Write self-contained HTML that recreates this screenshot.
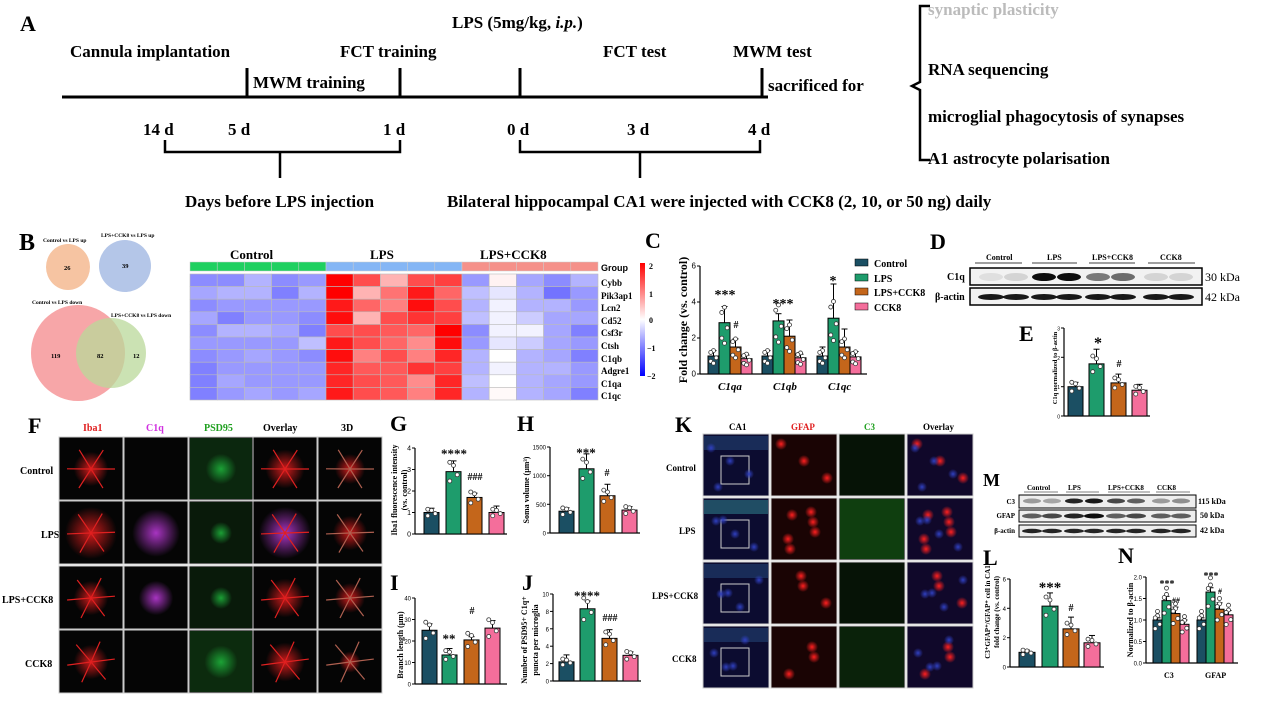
<!DOCTYPE html>
<html><head><meta charset="utf-8"><style>
html,body{margin:0;padding:0;background:#fff;width:1265px;height:720px;overflow:hidden}
svg{display:block}
text{font-family:"Liberation Serif",serif;font-weight:bold}
.s{font-family:"Liberation Sans",sans-serif;font-weight:normal}
</style></head><body>
<svg id="c" width="1265" height="720" xmlns="http://www.w3.org/2000/svg">
<defs>
<linearGradient id="cb" x1="0" y1="0" x2="0" y2="1"><stop offset="0" stop-color="#ff0000"/><stop offset="0.5" stop-color="#ffffff"/><stop offset="1" stop-color="#0000ff"/></linearGradient>
<radialGradient id="rg"><stop offset="0" stop-color="#ff2020"/><stop offset="1" stop-color="#ff2020" stop-opacity="0"/></radialGradient>
<radialGradient id="mg"><stop offset="0" stop-color="#d040f0"/><stop offset="1" stop-color="#d040f0" stop-opacity="0"/></radialGradient>
<radialGradient id="gg"><stop offset="0" stop-color="#20c040"/><stop offset="1" stop-color="#20c040" stop-opacity="0"/></radialGradient>
<radialGradient id="bg"><stop offset="0" stop-color="#3040c0"/><stop offset="1" stop-color="#3040c0" stop-opacity="0"/></radialGradient>
</defs>
<!-- Panel A -->
<text x="20" y="31" font-size="22">A</text>
<text x="452" y="28" font-size="17">LPS (5mg/kg, <tspan font-style="italic">i.p.</tspan>)</text>
<text x="70" y="57" font-size="17">Cannula implantation</text>
<text x="340" y="57" font-size="17">FCT training</text>
<text x="603" y="57" font-size="17">FCT test</text>
<text x="733" y="57" font-size="17">MWM test</text>
<text x="253" y="88" font-size="17">MWM training</text>
<text x="768" y="91" font-size="17">sacrificed for</text>
<line x1="62" y1="97" x2="768" y2="97" stroke="#000" stroke-width="3"/>
<g stroke="#000" stroke-width="3"><line x1="247" y1="68" x2="247" y2="97"/><line x1="400" y1="68" x2="400" y2="97"/><line x1="520" y1="68" x2="520" y2="97"/><line x1="762" y1="68" x2="762" y2="97"/></g>
<g font-size="17"><text x="143" y="135">14 d</text><text x="228" y="135">5 d</text><text x="383" y="135">1 d</text><text x="507" y="135">0 d</text><text x="627" y="135">3 d</text><text x="748" y="135">4 d</text></g>
<g fill="none" stroke="#000" stroke-width="2.5"><path d="M165 140 V152 H400 V140 M280 152 V178"/><path d="M520 140 V152 H760 V140 M640 152 V178"/>
<path d="M930 6 H920 V82 L912 86 L920 90 V160 H930"/></g>
<text x="185" y="207" font-size="17">Days before LPS injection</text>
<text x="447" y="207" font-size="17">Bilateral hippocampal CA1 were injected  with CCK8 (2, 10, or 50 ng) daily</text>
<text x="928" y="15" font-size="17" fill="#bbb">synaptic plasticity</text>
<text x="928" y="75" font-size="17">RNA sequencing</text>
<text x="928" y="122" font-size="17">microglial phagocytosis of synapses</text>
<text x="928" y="164" font-size="17">A1 astrocyte polarisation</text>
<!-- Panel B -->
<text x="19" y="250" font-size="24">B</text>
<ellipse cx="68" cy="267" rx="22" ry="23" fill="#f6c4a2"/>
<ellipse cx="125" cy="266" rx="26" ry="26" fill="#b4c6e8"/>
<ellipse cx="78" cy="353" rx="47" ry="48" fill="#f7a6a8"/>
<ellipse cx="111" cy="353" rx="35" ry="35" fill="#b9d89a" opacity="0.75"/>
<g font-size="5.5"><text x="43" y="242">Control vs LPS  up</text><text x="101" y="237">LPS+CCK8 vs LPS  up</text><text x="32" y="304">Control vs LPS down</text><text x="111" y="317">LPS+CCK8 vs LPS down</text></g>
<g font-size="6.5"><text x="64" y="270">26</text><text x="122" y="268">39</text><text x="51" y="358">119</text><text x="97" y="358">82</text><text x="133" y="358">12</text></g>
<g id="hm"></g>
<g font-size="13"><text x="230" y="259">Control</text><text x="370" y="259">LPS</text><text x="480" y="259">LPS+CCK8</text></g>
<text x="601" y="271" font-size="9" class="s" style="font-weight:bold">Group</text>
<g font-size="9" class="s"><text x="601" y="286">Cybb</text><text x="601" y="299">Pik3ap1</text><text x="601" y="311">Lcn2</text><text x="601" y="324">Cd52</text><text x="601" y="336">Csf3r</text><text x="601" y="349">Ctsh</text><text x="601" y="362">C1qb</text><text x="601" y="374">Adgre1</text><text x="601" y="387">C1qa</text><text x="601" y="399">C1qc</text></g>
<rect x="640" y="263" width="5" height="113" fill="url(#cb)"/>
<g font-size="8" class="s"><text x="649" y="269">2</text><text x="649" y="297">1</text><text x="649" y="323">0</text><text x="647" y="351">−1</text><text x="647" y="379">−2</text></g>
<!-- C -->
<text x="645" y="248" font-size="22">C</text>
<text transform="translate(687,320) rotate(-90)" font-size="12" text-anchor="middle">Fold change (vs. control)</text>
<g font-size="11" font-style="italic"><text x="718" y="390">C1qa</text><text x="773" y="390">C1qb</text><text x="828" y="390">C1qc</text></g>
<g font-size="10"><rect x="855" y="259" width="13" height="7" fill="#1b4f63" stroke="#000" stroke-width=".5"/><text x="874" y="267">Control</text>
<rect x="855" y="274" width="13" height="7" fill="#1e9c6c" stroke="#000" stroke-width=".5"/><text x="874" y="282">LPS</text>
<rect x="855" y="288" width="13" height="7" fill="#c4661b" stroke="#000" stroke-width=".5"/><text x="874" y="296">LPS+CCK8</text>
<rect x="855" y="303" width="13" height="7" fill="#f46e9b" stroke="#000" stroke-width=".5"/><text x="874" y="311">CCK8</text></g>
<!-- D -->
<text x="930" y="249" font-size="22">D</text>
<g font-size="8"><text x="986" y="260">Control</text><text x="1047" y="260">LPS</text><text x="1092" y="260">LPS+CCK8</text><text x="1160" y="260">CCK8</text></g>
<g stroke="#000" stroke-width=".8"><line x1="975" y1="263" x2="1022" y2="263"/><line x1="1032" y1="263" x2="1077" y2="263"/><line x1="1089" y1="263" x2="1135" y2="263"/><line x1="1148" y1="263" x2="1195" y2="263"/></g>
<rect x="970" y="268" width="232" height="17" fill="#f2f2f2" stroke="#000" stroke-width="1.5"/>
<rect x="970" y="288" width="232" height="17" fill="#f2f2f2" stroke="#000" stroke-width="1.5"/>
<g id="blotD"></g>
<text x="947" y="280" font-size="10">C1q</text><text x="935" y="300" font-size="10">β-actin</text>
<text x="1205" y="281" font-size="12" style="font-weight:normal">30 kDa</text><text x="1205" y="301" font-size="12" style="font-weight:normal">42 kDa</text>
<!-- E -->
<text x="1019" y="341" font-size="22">E</text>
<text transform="translate(1057,368) rotate(-90)" font-size="6.5" text-anchor="middle">C1q normalized to β-actin</text>
<!-- F -->
<text x="28" y="433" font-size="22">F</text>
<g font-size="10"><text x="83" y="431" fill="#e02020">Iba1</text><text x="146" y="431" fill="#d030e0">C1q</text><text x="204" y="431" fill="#20a020">PSD95</text><text x="263" y="431">Overlay</text><text x="341" y="431">3D</text></g>
<g font-size="10"><text x="20" y="474">Control</text><text x="41" y="538">LPS</text><text x="2" y="603">LPS+CCK8</text><text x="25" y="667">CCK8</text></g>
<g id="imgF"></g>
<!-- G H I J -->
<text x="390" y="431" font-size="22">G</text><text x="517" y="431" font-size="22">H</text>
<text x="390" y="590" font-size="22">I</text><text x="522" y="590" font-size="22">J</text>
<text transform="translate(397,490) rotate(-90)" font-size="8" text-anchor="middle">Iba1 fluorescence intensity</text>
<text transform="translate(407,490) rotate(-90)" font-size="8" text-anchor="middle">(vs. control)</text>
<text transform="translate(529,490) rotate(-90)" font-size="8" text-anchor="middle">Soma volume (μm³)</text>
<text transform="translate(403,645) rotate(-90)" font-size="8" text-anchor="middle">Branch length (μm)</text>
<text transform="translate(527,640) rotate(-90)" font-size="8" text-anchor="middle">Number of PSD95+ C1q+</text>
<text transform="translate(538,640) rotate(-90)" font-size="8" text-anchor="middle">puncta per microglia</text>
<!-- K -->
<text x="675" y="432" font-size="22">K</text>
<g font-size="9"><text x="729" y="430">CA1</text><text x="791" y="430" fill="#e02020">GFAP</text><text x="864" y="430" fill="#20a020">C3</text><text x="923" y="430">Overlay</text></g>
<g font-size="9"><text x="666" y="471">Control</text><text x="679" y="534">LPS</text><text x="652" y="599">LPS+CCK8</text><text x="672" y="662">CCK8</text></g>
<g id="imgK"></g>
<!-- M -->
<text x="983" y="486" font-size="18">M</text>
<g font-size="7"><text x="1027" y="490">Control</text><text x="1068" y="490">LPS</text><text x="1108" y="490">LPS+CCK8</text><text x="1157" y="490">CCK8</text></g>
<g stroke="#000" stroke-width=".6"><line x1="1024" y1="492" x2="1058" y2="492"/><line x1="1066" y1="492" x2="1099" y2="492"/><line x1="1108" y1="492" x2="1150" y2="492"/><line x1="1156" y1="492" x2="1190" y2="492"/></g>
<rect x="1019" y="495" width="177" height="13" fill="#eee" stroke="#000"/>
<rect x="1019" y="510" width="177" height="12" fill="#eee" stroke="#000"/>
<rect x="1019" y="525" width="177" height="12" fill="#eee" stroke="#000"/>
<g id="blotM"></g>
<g font-size="7" text-anchor="end"><text x="1015" y="504">C3</text><text x="1015" y="518">GFAP</text><text x="1015" y="533">β-actin</text></g>
<g font-size="8" style="font-weight:normal"><text x="1198" y="504">115 kDa</text><text x="1200" y="518">50 kDa</text><text x="1200" y="533">42 kDa</text></g>
<text x="983" y="565" font-size="22">L</text><text x="1118" y="563" font-size="22">N</text>
<text transform="translate(990,612) rotate(-90)" font-size="7" text-anchor="middle">C3⁺GFAP⁺/GFAP⁺ cell in CA1</text>
<text transform="translate(999,612) rotate(-90)" font-size="7" text-anchor="middle">fold change (vs. control)</text>
<text transform="translate(1133,620) rotate(-90)" font-size="8" text-anchor="middle">Normalized to β-actin</text>
<text x="1164" y="678" font-size="8">C3</text><text x="1205" y="678" font-size="8">GFAP</text>
<g id="charts"></g>
</svg>
<script>
var NS="http://www.w3.org/2000/svg";
function el(p,t,a){var e=document.createElementNS(NS,t);for(var k in a)e.setAttribute(k,a[k]);p.appendChild(e);return e;}
var hm=document.getElementById('hm');
var M=[[-0.9,-0.9,-0.6,-0.9,-0.8,2,1.4,0.6,1.4,1.5,-0.8,0.1,-0.7,-0.9,-0.6],
[-0.7,-0.6,-0.6,-1,-0.6,2,0.6,1.1,1.8,1.2,-0.5,-0.2,-0.6,-1.1,-0.8],
[-0.9,-0.8,-0.8,-0.8,-0.8,1.8,1.2,1.0,1.9,1.4,-0.6,-0.1,-0.6,-0.6,-0.8],
[-0.7,-1,-0.8,-0.8,-0.9,1.9,0.6,1.4,1.6,1.5,-0.5,-0.1,-0.4,-0.7,-0.7],
[-0.9,-0.6,-0.6,-0.7,-1,1.4,1.4,1.3,1.2,2,-0.9,-0.1,-0.1,-0.7,-1],
[-0.8,-0.8,-0.8,-0.8,-0.5,1.8,1.4,1.2,0.9,1.9,-0.8,-0.2,-0.4,-0.7,-0.8],
[-0.9,-0.8,-0.7,-0.8,-0.9,1.9,1.0,1.4,1.0,1.7,-0.6,0,-0.6,-0.7,-1],
[-1,-0.8,-0.8,-0.8,-0.8,1.7,1.3,1.3,1.6,1.5,-0.6,-0.1,-0.6,-0.6,-0.8],
[-1,-0.7,-0.8,-0.8,-0.8,1.7,1.4,1.3,0.9,1.7,-0.5,0,-0.6,-0.7,-0.8],
[-1,-0.8,-0.7,-0.8,-0.7,1.8,1.4,1.3,1.0,1.7,-0.6,0.05,-0.6,-0.7,-1]];
var cw=408/15;
function col(v){var t=Math.min(1,Math.abs(v)/2);var w=Math.round(255*(1-t));return v>=0?'rgb(255,'+w+','+w+')':'rgb('+w+','+w+',255)';}
for(var j=0;j<15;j++){el(hm,'rect',{x:190+j*cw,y:262,width:cw,height:9,fill:j<5?'#1fd060':j<10?'#85b6f5':'#f5918a',stroke:'#ccc','stroke-width':0.5});}
for(var i=0;i<10;i++)for(var j=0;j<15;j++)el(hm,'rect',{x:190+j*cw,y:274+i*12.6,width:cw,height:12.6,fill:col(M[i][j]),stroke:'#bbb','stroke-width':0.6});
var C=['#1b4f63','#1e9c6c','#c4661b','#f46e9b'];
var ch=document.getElementById('charts');
function axis(x,y0,y1,ticks,labs,xend,fs){el(ch,'line',{x1:x,y1:y0,x2:x,y2:y1,stroke:'#000','stroke-width':1.2});el(ch,'line',{x1:x,y1:y0,x2:xend,y2:y0,stroke:'#000','stroke-width':1.2});
for(var i=0;i<ticks.length;i++){var y=ticks[i];el(ch,'line',{x1:x-3,y1:y,x2:x,y2:y,stroke:'#000'});var t=el(ch,'text',{x:x-4,y:y+2.5,'font-size':fs||7,'text-anchor':'end',class:'s'});t.textContent=labs[i];}}
function bar(x,w,y0,h,c,err,dots){el(ch,'line',{x1:x+w/2,y1:y0-h,x2:x+w/2,y2:y0-h-err,stroke:'#000','stroke-width':1});el(ch,'line',{x1:x+w/2-3,y1:y0-h-err,x2:x+w/2+3,y2:y0-h-err,stroke:'#000','stroke-width':1});
el(ch,'rect',{x:x,y:y0-h,width:w,height:h,fill:c,stroke:'#000','stroke-width':1});
for(var i=0;i<dots.length;i++)el(ch,'circle',{cx:x+w/2+(i%3-1)*w*0.25,cy:y0-h*dots[i],r:2,fill:'#fff',stroke:'#333','stroke-width':0.8});}
function txt(x,y,s,fs){var t=el(ch,'text',{x:x,y:y,'font-size':fs,'text-anchor':'middle'});t.textContent=s;}
var D4=[0.85,1.1,0.95,1.15];
// C
var y0=374,u=18;axis(700,y0,266,[374,338,302,266],['0','2','4','6'],867,8);
var cv=[[1,2.85,1.5,0.85],[1,2.95,2.1,0.9],[1,3.1,1.5,0.95]],ce=[[0.3,0.9,0.45,0.2],[0.3,0.4,0.9,0.2],[0.5,1.9,1.0,0.3]];
var gs=[708,762,817];
for(var g=0;g<3;g++)for(var b=0;b<4;b++)bar(gs[g]+b*11,11,y0,cv[g][b]*u,C[b],ce[g][b]*u,[0.7,1.3,0.9,1.2,0.6]);
txt(725,299,'***',14);txt(736,328,'#',10);txt(783,308,'***',14);txt(833,285,'*',14);
// E
axis(1064,416,328,[416,386.7,357.3,328],['0','1','2','3'],1150,5);
var ev=[1,1.78,1.13,0.88];var ee=[0.15,0.5,0.3,0.2];var ex=[1068,1089,1111,1132];
for(var b=0;b<4;b++)bar(ex[b],15,416,ev[b]*29.3,C[b],ee[b]*29.3,D4);
txt(1098,348,'*',16);txt(1119,367,'#',10);
// G
axis(415,534,448,[534,512.5,491,469.5,448],['0','1','2','3','4'],507,7);
var gv=[1,2.9,1.7,1.0],gx=[424,446,467,489];for(var b=0;b<4;b++)bar(gx[b],15,534,gv[b]*21.5,C[b],[0.2,0.5,0.2,0.3][b]*21.5,D4);
txt(454,458,'****',13);txt(475,480,'###',10);
// H
axis(550,533,447,[533,504.3,475.7,447],['0','500','1000','1500'],640,6);
var hv=[380,1120,650,400],hx=[559,579,600,622];for(var b=0;b<4;b++)bar(hx[b],15,533,hv[b]/1500*86,C[b],[60,260,200,60][b]/1500*86,D4);
txt(586,457,'***',13);txt(607,476,'#',10);
// I
axis(415,684,598,[684,662.5,641,619.5,598],['0','10','20','30','40'],507,6);
var iv=[25,13.5,20.5,26],ix=[422,442,464,485];for(var b=0;b<4;b++)bar(ix[b],15,684,iv[b]/40*86,C[b],[3,3,1.5,3.5][b]/40*86,D4);
txt(449,643,'**',13);txt(472,614,'#',10);
// J
axis(553,681,594,[681,663.6,646.2,628.8,611.4,594],['0','2','4','6','8','10'],641,6);
var jv=[2.2,8.3,4.9,2.95],jx=[559,580,602,623];for(var b=0;b<4;b++)bar(jx[b],15,681,jv[b]*8.7,C[b],[0.8,0.9,1,0.4][b]*8.7,D4);
txt(587,600,'****',13);txt(610,621,'###',10);
// L
axis(1010,667,579,[667,637.7,608.3,579],['0','2','4','6'],1104,6);
var lv=[1,4.15,2.6,1.65],lx=[1019,1042,1063,1084];for(var b=0;b<4;b++)bar(lx[b],16,667,lv[b]*14.67,C[b],[0.15,0.9,0.8,0.5][b]*14.67,D4);
txt(1050,592,'***',15);txt(1071,611,'#',10);
// N
axis(1146,663,577,[663,641.5,620,598.5,577],['0.0','0.5','1.0','1.5','2.0'],1238,6);
var nv=[[1,1.45,1.15,0.9],[1,1.65,1.25,1.12]];
for(var g=0;g<2;g++)for(var b=0;b<4;b++)bar(1153+g*44+b*9,9,663,nv[g][b]*43,C[b],[0.05,0.1,0.15,0.1][b]*43,[0.8,1.1,0.9,1.05,1.2]);
txt(1167,587,'***',10);txt(1176,603,'##',8);txt(1211,579,'***',10);txt(1220,594,'#',8);
// blots
var bd=document.getElementById('blotD');var lanes=[983,1008,1036,1061,1090,1115,1148,1173];var c1=[0.08,0.12,0.95,0.95,0.5,0.55,0.12,0.12];
for(var i=0;i<8;i++){el(bd,'ellipse',{cx:lanes[i]+8,cy:277,rx:12,ry:4,fill:'#000',opacity:c1[i]});el(bd,'ellipse',{cx:lanes[i]+8,cy:297,rx:13,ry:3,fill:'#000',opacity:0.9});}
var bm=document.getElementById('blotM');var ml=[1028,1048,1070,1090,1112,1132,1157,1177];var c3=[0.35,0.3,0.85,0.9,0.7,0.6,0.35,0.4],gf=[0.6,0.7,0.85,0.95,0.6,0.7,0.6,0.6];
for(var i=0;i<8;i++){el(bm,'ellipse',{cx:ml[i]+4,cy:501,rx:9,ry:2.5,fill:'#000',opacity:c3[i]});el(bm,'ellipse',{cx:ml[i]+4,cy:516,rx:10,ry:2.5,fill:'#000',opacity:gf[i]});el(bm,'ellipse',{cx:ml[i]+4,cy:531,rx:10,ry:2.2,fill:'#000',opacity:0.85});}
// F images
var fi=document.getElementById('imgF');var fx=[59,124,189,253,318],fy=[437,501,566,630];
var fc=[['rg',null,'gg','rg','rg'],['rg','mg','gg','mg','rg'],['rg','mg','gg','rg','rg'],['rg',null,'gg','rg','rg']];
var fs=[[0.6,0,0.8,0.7,0.5],[1,0.9,0.5,1,0.6],[0.6,0.6,0.5,0.7,0.5],[0.6,0,0.9,0.7,0.3]];
for(var r=0;r<4;r++)for(var c=0;c<5;c++){var x=fx[c],y=fy[r];el(fi,'rect',{x:x,y:y,width:64,height:63,fill:'#050505',stroke:'#ccc','stroke-width':1});
if(c==2){el(fi,'rect',{x:x+1,y:y+1,width:62,height:61,fill:'#0d3010',opacity:fs[r][c]});}
if(fc[r][c]){el(fi,'circle',{cx:x+32,cy:y+32,r:(c==2?14:22)*fs[r][c]+4,fill:'url(#'+fc[r][c]+')',opacity:0.8});
if(c==0||c==3||c==4){for(var k=0;k<6;k++){var a=k*1.05+r;el(fi,'line',{x1:x+32,y1:y+32,x2:x+32+Math.cos(a)*24,y2:y+32+Math.sin(a)*22,stroke:c==4?'#b06050':'#e02020','stroke-width':1.2});}}}}
// K images
var ki=document.getElementById('imgK');var kx=[703,771,839,907],ky=[434,498,562,626];
for(var r=0;r<4;r++)for(var c=0;c<4;c++){var x=kx[c],y=ky[r];el(ki,'rect',{x:x,y:y,width:66,height:62,fill:c==0?'#0c0c30':c==1?'#1a0404':c==2?'#040a04':'#10082a',stroke:'#ccc','stroke-width':1});
if(c==0){el(ki,'rect',{x:x+1,y:y+2,width:64,height:14,fill:r==1?'#2a6a7a':'#203a6a',opacity:0.7});el(ki,'rect',{x:x+18,y:y+22,width:28,height:28,fill:'none',stroke:'#ccc','stroke-width':1});}
if(c==1||c==3){for(var k=0;k<(r==1?6:3);k++){var cx=x+10+((k*23+r*11)%48),cy=y+10+((k*17+r*7)%44);el(ki,'circle',{cx:cx,cy:cy,r:6,fill:'url(#rg)'});}}
if(c==2){el(ki,'rect',{x:x+1,y:y+1,width:64,height:60,fill:'#1a6a1a',opacity:r==1?0.55:r==3?0.25:0.1});}
if(c==3||c==0){for(var k=0;k<4;k++)el(ki,'circle',{cx:x+8+((k*19+r*5)%50),cy:y+14+((k*13+r*9)%40),r:5,fill:'url(#bg)'});}}
</script>
</body></html>
